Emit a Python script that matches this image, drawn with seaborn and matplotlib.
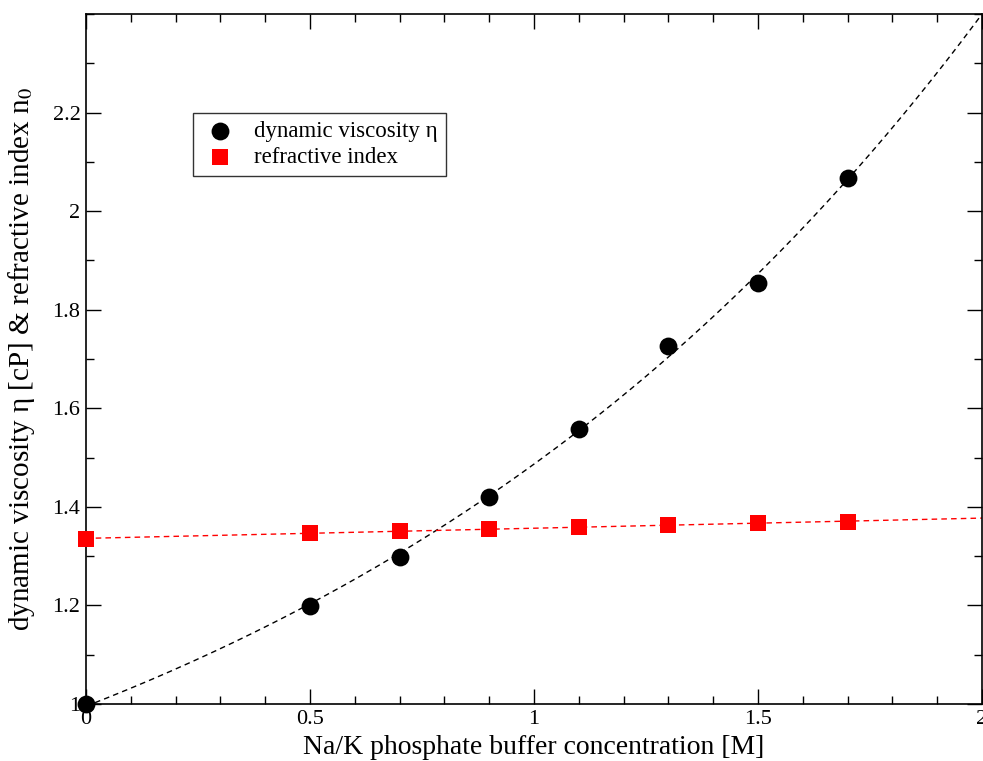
import numpy as np
import pandas as pd
import matplotlib
matplotlib.use("Agg")
import matplotlib.pyplot as plt
from matplotlib.ticker import MultipleLocator, FixedLocator
import seaborn as sns

# Measured values
concentration = [0.0, 0.5, 0.7, 0.9, 1.1, 1.3, 1.5, 1.7]
viscosity = [1.000, 1.199, 1.299, 1.420, 1.558, 1.726, 1.855, 2.067]
refractive = [1.335, 1.347, 1.351, 1.355, 1.359, 1.363, 1.367, 1.370]

y_tick_values = [1.0, 1.2, 1.4, 1.6, 1.8, 2.0, 2.2]
y_tick_labels = ["1", "1.2", "1.4", "1.6", "1.8", "2", "2.2"]
x_tick_values = [0.0, 0.5, 1.0, 1.5, 2.0]
x_tick_labels = ["0", "0.5", "1", "1.5", "2"]

df = pd.DataFrame({"c": concentration, "eta": viscosity, "n": refractive})

# Exponential fit eta = c0 + a*exp(b*x): scan b, solve c0 and a by least squares
xv = np.asarray(concentration)
yv = np.asarray(viscosity)
best = None
for b in np.linspace(0.05, 2.0, 1951):
    A = np.column_stack([np.ones_like(xv), np.exp(b * xv)])
    coef, *_ = np.linalg.lstsq(A, yv, rcond=None)
    res = np.sum((A @ coef - yv) ** 2)
    if best is None or res < best[0]:
        best = (res, b, coef)
_, b_fit, (c0_fit, a_fit) = best
x_fit = np.linspace(0, 2, 300)
fit_df = pd.DataFrame({"c": x_fit, "eta": c0_fit + a_fit * np.exp(b_fit * x_fit)})

sns.set_theme(style="ticks")
plt.rcParams["font.family"] = ["Liberation Serif", "DejaVu Serif"]
plt.rcParams["mathtext.fontset"] = "stix"
plt.rcParams["text.color"] = "black"
plt.rcParams["axes.labelcolor"] = "black"
plt.rcParams["xtick.color"] = "black"
plt.rcParams["ytick.color"] = "black"

fig = plt.figure(figsize=(9.83, 7.61), dpi=100)
ax = fig.add_axes([86 / 983, 57 / 761, 896 / 983, 690 / 761])
ax.set_xlim(0, 2)
ax.set_ylim(1, 2.4)

# Fitted trends
sns.lineplot(data=fit_df, x="c", y="eta", ax=ax, color="black", lw=1.0,
             ls=(0, (4, 3)), legend=False)
sns.regplot(data=df, x="c", y="n", order=1, ci=None, scatter=False,
            truncate=False, ax=ax,
            line_kws=dict(color="red", lw=1.0, ls=(0, (4, 3))))

# Data points
sns.scatterplot(data=df, x="c", y="eta", ax=ax, marker="o", s=165,
                color="black", edgecolor="black", linewidth=0,
                label="dynamic viscosity η", zorder=5, clip_on=False)
sns.scatterplot(data=df, x="c", y="n", ax=ax, marker="s", s=118,
                color="red", edgecolor="red", linewidth=0,
                label="refractive index", zorder=5, clip_on=False)

ax.set_xlim(0, 2)
ax.set_ylim(1, 2.4)
ax.xaxis.set_major_locator(FixedLocator(x_tick_values))
ax.set_xticklabels(x_tick_labels)
ax.xaxis.set_minor_locator(MultipleLocator(0.1))
ax.yaxis.set_major_locator(FixedLocator(y_tick_values))
ax.set_yticklabels(y_tick_labels)
ax.yaxis.set_minor_locator(MultipleLocator(0.1))

ax.tick_params(which="both", direction="in", top=True, right=True,
               labelsize=16, color="black", labelcolor="black", width=1.0)
ax.tick_params(axis="x", which="major", pad=4)
ax.tick_params(axis="y", which="major", pad=4)
ax.tick_params(which="major", length=11)
ax.tick_params(which="minor", length=6)
for sp in ax.spines.values():
    sp.set_linewidth(1.2)
    sp.set_color("black")

ax.set_xlabel("Na/K phosphate buffer concentration [M]", fontsize=20,
              labelpad=5, color="black")
ax.set_ylabel("dynamic viscosity η [cP] & refractive index n$_0$", fontsize=21,
              labelpad=11, color="black")

leg = ax.legend(loc="upper left", bbox_to_anchor=(0.107, 0.873), fontsize=16.5,
                frameon=True, fancybox=False, edgecolor="black",
                handletextpad=0.7, borderpad=0.35, labelspacing=0.2,
                markerscale=1.0, handlelength=1.6)
leg.get_frame().set_linewidth(1.0)
for t in leg.get_texts():
    t.set_color("black")

fig.savefig("out.png", dpi=100)
